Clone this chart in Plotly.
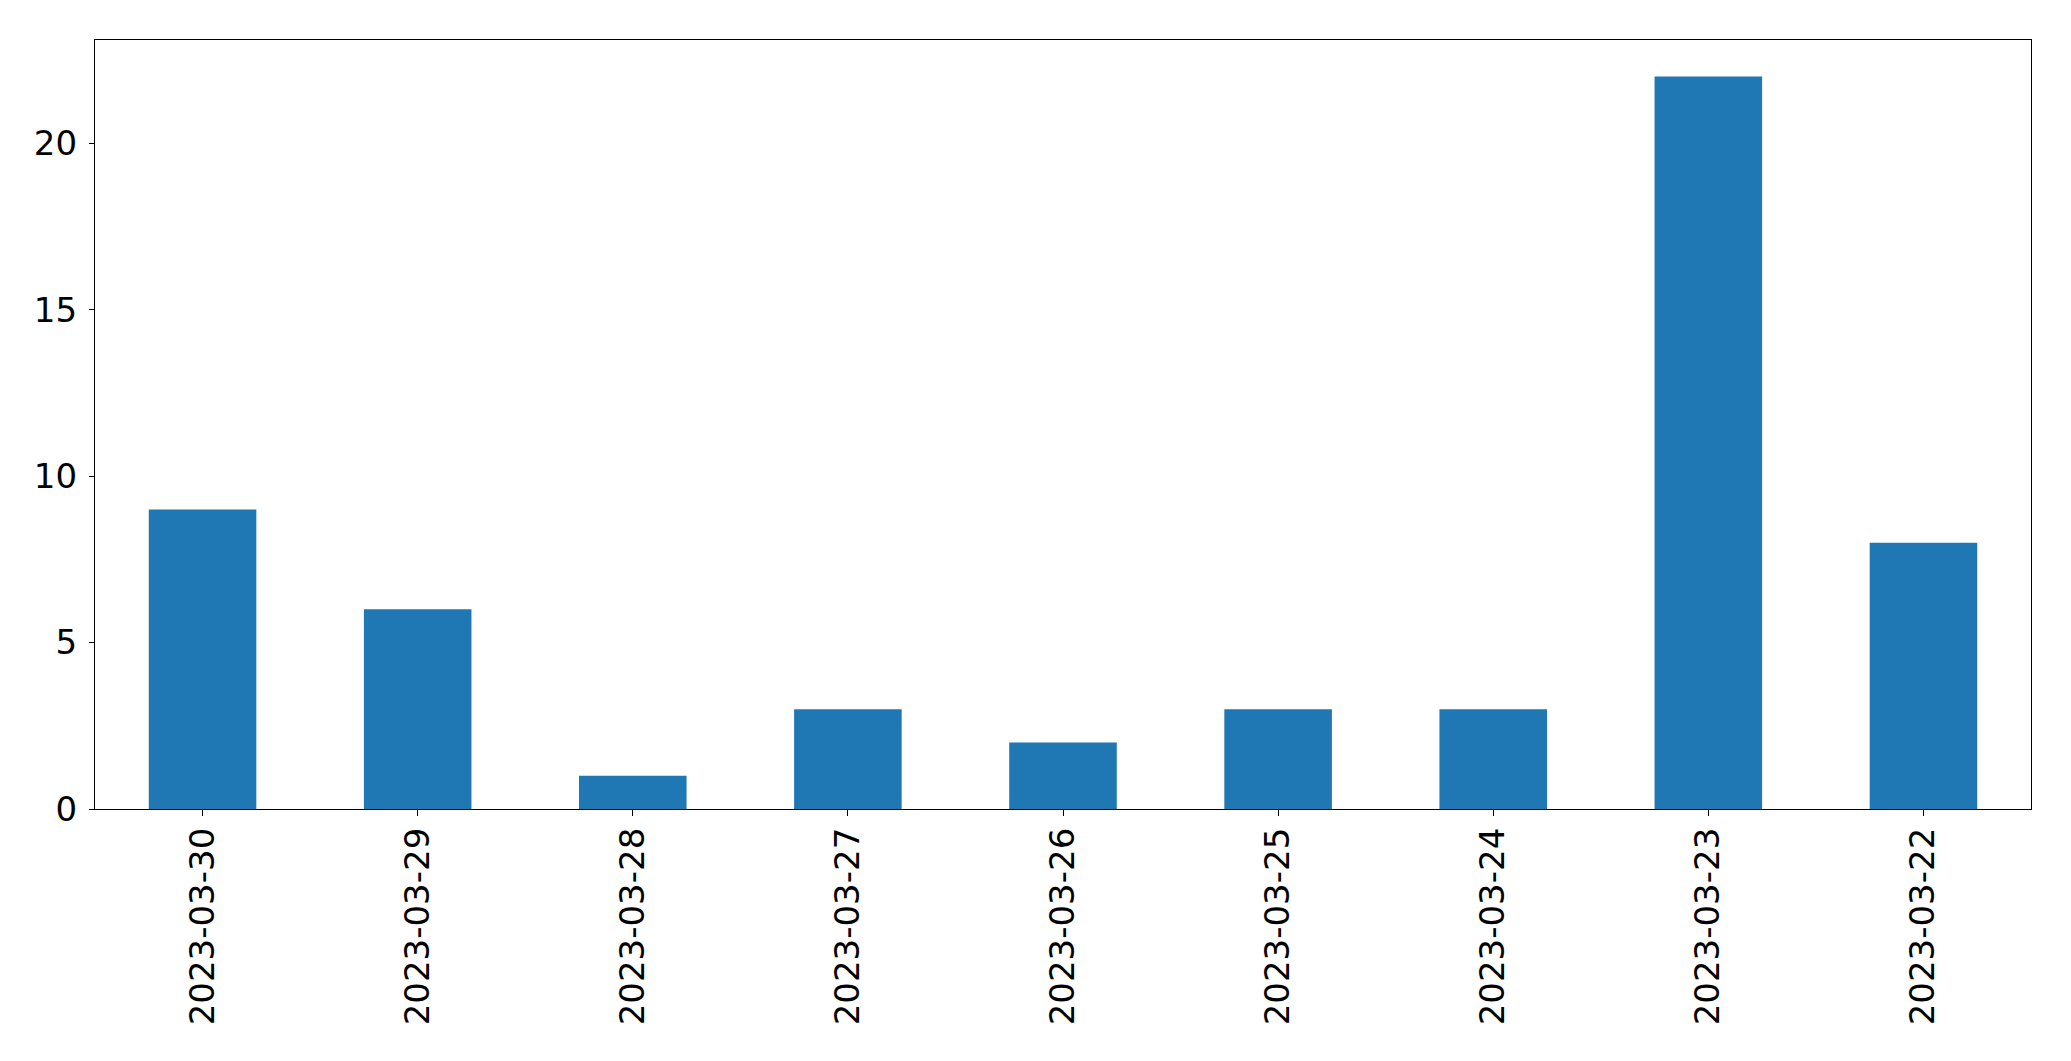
import plotly.graph_objects as go

dates = ["2023-03-30", "2023-03-29", "2023-03-28", "2023-03-27", "2023-03-26",
         "2023-03-25", "2023-03-24", "2023-03-23", "2023-03-22"]
counts = [9, 6, 1, 3, 2, 3, 3, 22, 8]
y_ticks = [0, 5, 10, 15, 20]

fig = go.Figure(go.Bar(x=dates, y=counts, width=0.5, marker_color="#1f77b4",
                       marker_line_width=0))

axis_common = dict(showline=True, linecolor="black", linewidth=1.3, mirror=True,
                   showgrid=False, zeroline=False, ticks="outside", tickcolor="black",
                   tickwidth=1.3,
                   tickfont=dict(family="DejaVu Sans", size=34, color="black"))

fig.update_xaxes(type="category", range=[-0.5, 8.5], tickangle=-90, ticklen=6,
                 ticklabelstandoff=-2, **axis_common)
fig.update_yaxes(range=[0, 23.1], tickvals=y_ticks, ticklen=5, ticklabelstandoff=5,
                 **axis_common)

fig.update_layout(width=2055, height=1045, plot_bgcolor="white", paper_bgcolor="white",
                  margin=dict(l=86.5, r=31.5, t=31.5, b=244), showlegend=False,
                  bargap=0.5)

fig.write_html("out.html")
